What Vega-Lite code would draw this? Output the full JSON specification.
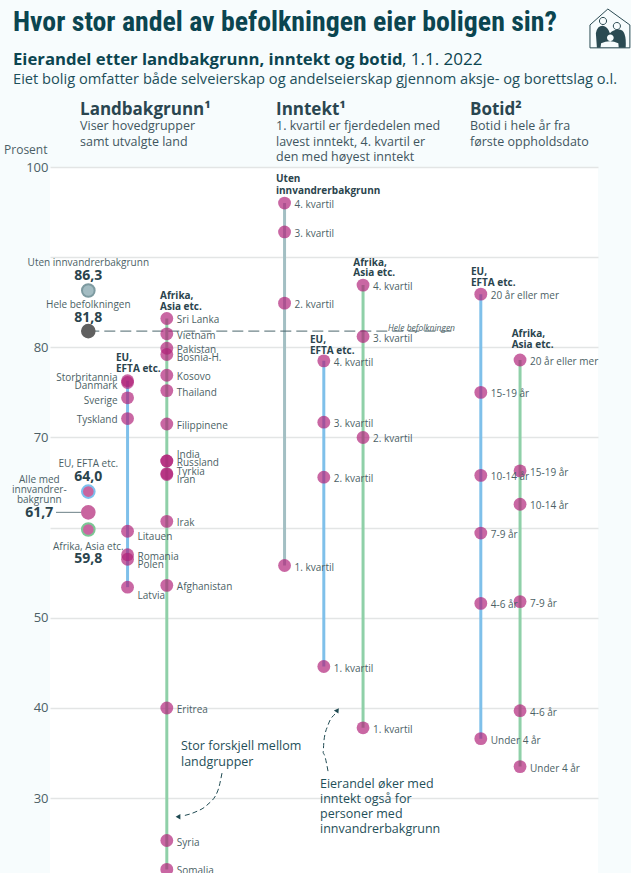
{
"$schema":"https://vega.github.io/schema/vega-lite/v6.json",
"autosize":{"type":"none"},
"padding":{"left":50,"top":167,"right":33,"bottom":0},
"width":548,"height":706,
"background":"#f7fcfd",
"view":{"fill":"#ffffff","stroke":null},
"title":{"text":"Hvor stor andel av befolkningen eier boligen sin?","anchor":"start","frame":"group","dx":-37,"offset":-52,"baseline":"alphabetic","font":"'Roboto Condensed', Roboto, sans-serif","fontSize":27.8,"fontWeight":"bold","color":"#0b4550"},
"config":{
 "axisX":{"disable":true},
 "text":{"font":"Open Sans","fontSize":10,"baseline":"middle","align":"left","color":"#4c5f66","lineBreak":"\n","dy":1}
},
"datasets":{
 "eierandel":[
  {"serie":"Land EU","bakgrunn":"EU, EFTA etc.","kolonne":1,"etikett":"Storbritannia","prosent":76.3},
  {"serie":"Land EU","bakgrunn":"EU, EFTA etc.","kolonne":1,"etikett":"Danmark","prosent":76.1},
  {"serie":"Land EU","bakgrunn":"EU, EFTA etc.","kolonne":1,"etikett":"Sverige","prosent":74.4},
  {"serie":"Land EU","bakgrunn":"EU, EFTA etc.","kolonne":1,"etikett":"Tyskland","prosent":72.1},
  {"serie":"Land EU","bakgrunn":"EU, EFTA etc.","kolonne":1,"etikett":"Litauen","prosent":59.6},
  {"serie":"Land EU","bakgrunn":"EU, EFTA etc.","kolonne":1,"etikett":"Romania","prosent":57.0},
  {"serie":"Land EU","bakgrunn":"EU, EFTA etc.","kolonne":1,"etikett":"Polen","prosent":56.5},
  {"serie":"Land EU","bakgrunn":"EU, EFTA etc.","kolonne":1,"etikett":"Latvia","prosent":53.4},
  {"serie":"Land Afrika","bakgrunn":"Afrika, Asia etc.","kolonne":2,"etikett":"Sri Lanka","prosent":83.2},
  {"serie":"Land Afrika","bakgrunn":"Afrika, Asia etc.","kolonne":2,"etikett":"Vietnam","prosent":81.5},
  {"serie":"Land Afrika","bakgrunn":"Afrika, Asia etc.","kolonne":2,"etikett":"Pakistan","prosent":79.9},
  {"serie":"Land Afrika","bakgrunn":"Afrika, Asia etc.","kolonne":2,"etikett":"Bosnia-H.","prosent":79.2},
  {"serie":"Land Afrika","bakgrunn":"Afrika, Asia etc.","kolonne":2,"etikett":"Kosovo","prosent":76.9},
  {"serie":"Land Afrika","bakgrunn":"Afrika, Asia etc.","kolonne":2,"etikett":"Thailand","prosent":75.2},
  {"serie":"Land Afrika","bakgrunn":"Afrika, Asia etc.","kolonne":2,"etikett":"Filippinene","prosent":71.5},
  {"serie":"Land Afrika","bakgrunn":"Afrika, Asia etc.","kolonne":2,"etikett":"India","prosent":67.4},
  {"serie":"Land Afrika","bakgrunn":"Afrika, Asia etc.","kolonne":2,"etikett":"Russland","prosent":67.4},
  {"serie":"Land Afrika","bakgrunn":"Afrika, Asia etc.","kolonne":2,"etikett":"Tyrkia","prosent":66.0},
  {"serie":"Land Afrika","bakgrunn":"Afrika, Asia etc.","kolonne":2,"etikett":"Iran","prosent":65.9},
  {"serie":"Land Afrika","bakgrunn":"Afrika, Asia etc.","kolonne":2,"etikett":"Irak","prosent":60.7},
  {"serie":"Land Afrika","bakgrunn":"Afrika, Asia etc.","kolonne":2,"etikett":"Afghanistan","prosent":53.6},
  {"serie":"Land Afrika","bakgrunn":"Afrika, Asia etc.","kolonne":2,"etikett":"Eritrea","prosent":40.0},
  {"serie":"Land Afrika","bakgrunn":"Afrika, Asia etc.","kolonne":2,"etikett":"Syria","prosent":25.3},
  {"serie":"Land Afrika","bakgrunn":"Afrika, Asia etc.","kolonne":2,"etikett":"Somalia","prosent":22.1},
  {"serie":"Inntekt Uten","bakgrunn":"Uten innvandrerbakgrunn","kolonne":5,"etikett":"4. kvartil","prosent":96.0},
  {"serie":"Inntekt Uten","bakgrunn":"Uten innvandrerbakgrunn","kolonne":5,"etikett":"3. kvartil","prosent":92.8},
  {"serie":"Inntekt Uten","bakgrunn":"Uten innvandrerbakgrunn","kolonne":5,"etikett":"2. kvartil","prosent":84.9},
  {"serie":"Inntekt Uten","bakgrunn":"Uten innvandrerbakgrunn","kolonne":5,"etikett":"1. kvartil","prosent":55.8},
  {"serie":"Inntekt EU","bakgrunn":"EU, EFTA etc.","kolonne":6,"etikett":"4. kvartil","prosent":78.5},
  {"serie":"Inntekt EU","bakgrunn":"EU, EFTA etc.","kolonne":6,"etikett":"3. kvartil","prosent":71.7},
  {"serie":"Inntekt EU","bakgrunn":"EU, EFTA etc.","kolonne":6,"etikett":"2. kvartil","prosent":65.6},
  {"serie":"Inntekt EU","bakgrunn":"EU, EFTA etc.","kolonne":6,"etikett":"1. kvartil","prosent":44.6},
  {"serie":"Inntekt Afrika","bakgrunn":"Afrika, Asia etc.","kolonne":7,"etikett":"4. kvartil","prosent":86.9},
  {"serie":"Inntekt Afrika","bakgrunn":"Afrika, Asia etc.","kolonne":7,"etikett":"3. kvartil","prosent":81.2},
  {"serie":"Inntekt Afrika","bakgrunn":"Afrika, Asia etc.","kolonne":7,"etikett":"2. kvartil","prosent":70.0},
  {"serie":"Inntekt Afrika","bakgrunn":"Afrika, Asia etc.","kolonne":7,"etikett":"1. kvartil","prosent":37.8},
  {"serie":"Botid EU","bakgrunn":"EU, EFTA etc.","kolonne":10,"etikett":"20 år eller mer","prosent":85.9},
  {"serie":"Botid EU","bakgrunn":"EU, EFTA etc.","kolonne":10,"etikett":"15-19 år","prosent":75.0},
  {"serie":"Botid EU","bakgrunn":"EU, EFTA etc.","kolonne":10,"etikett":"10-14 år","prosent":65.8},
  {"serie":"Botid EU","bakgrunn":"EU, EFTA etc.","kolonne":10,"etikett":"7-9 år","prosent":59.4},
  {"serie":"Botid EU","bakgrunn":"EU, EFTA etc.","kolonne":10,"etikett":"4-6 år","prosent":51.6},
  {"serie":"Botid EU","bakgrunn":"EU, EFTA etc.","kolonne":10,"etikett":"Under 4 år","prosent":36.6},
  {"serie":"Botid Afrika","bakgrunn":"Afrika, Asia etc.","kolonne":11,"etikett":"20 år eller mer","prosent":78.6},
  {"serie":"Botid Afrika","bakgrunn":"Afrika, Asia etc.","kolonne":11,"etikett":"15-19 år","prosent":66.3},
  {"serie":"Botid Afrika","bakgrunn":"Afrika, Asia etc.","kolonne":11,"etikett":"10-14 år","prosent":62.6},
  {"serie":"Botid Afrika","bakgrunn":"Afrika, Asia etc.","kolonne":11,"etikett":"7-9 år","prosent":51.8},
  {"serie":"Botid Afrika","bakgrunn":"Afrika, Asia etc.","kolonne":11,"etikett":"4-6 år","prosent":39.7},
  {"serie":"Botid Afrika","bakgrunn":"Afrika, Asia etc.","kolonne":11,"etikett":"Under 4 år","prosent":33.5}
 ],
 "hovedgrupper":[
  {"gruppe":"Uten innvandrerbakgrunn","kolonne":0,"prosent":86.3},
  {"gruppe":"Hele befolkningen","kolonne":0,"prosent":81.8},
  {"gruppe":"EU, EFTA etc.","kolonne":0,"prosent":64.0},
  {"gruppe":"Alle med innvandrerbakgrunn","kolonne":0,"prosent":61.7},
  {"gruppe":"Afrika, Asia etc.","kolonne":0,"prosent":59.8}
 ],
 "piler":[
  {"pil":"a","rekke":1,"kolonne":3.406,"prosent":32.78},
  {"pil":"a","rekke":2,"kolonne":3.305,"prosent":30.89},
  {"pil":"a","rekke":3,"kolonne":3.024,"prosent":29.23},
  {"pil":"a","rekke":4,"kolonne":2.718,"prosent":28.45},
  {"pil":"a","rekke":5,"kolonne":2.387,"prosent":28.01},
  {"pil":"b","rekke":1,"kolonne":6.107,"prosent":33.0},
  {"pil":"b","rekke":2,"kolonne":5.98,"prosent":35.0},
  {"pil":"b","rekke":3,"kolonne":6.005,"prosent":36.44},
  {"pil":"b","rekke":4,"kolonne":6.107,"prosent":38.1},
  {"pil":"b","rekke":5,"kolonne":6.285,"prosent":39.32}
 ]
},
"data":{"name":"eierandel"},
"layer":[
 {"mark":{"type":"line","strokeWidth":3},
  "encoding":{
   "x":{"field":"kolonne","type":"quantitative","scale":{"domain":[-0.976,12.986],"nice":false,"zero":false}},
   "y":{"field":"prosent","type":"quantitative","scale":{"domain":[21.7,100],"nice":false,"zero":false},
    "axis":{"title":"Prosent","titleAngle":0,"titleAlign":"right","titleBaseline":"middle","titleX":-3,"titleY":-18,"titleFont":"Open Sans","titleFontSize":12,"titleFontWeight":"normal","titleColor":"#4c5f66",
     "values":[30,40,50,60,70,80,90,100],"labelExpr":"datum.value==60||datum.value==90?'':datum.label","domain":false,"ticks":false,"labelPadding":2,"labelFont":"Open Sans","labelFontSize":13,"labelColor":"#4c5f66","grid":true,"gridColor":"#e3e5e5","gridWidth":1.5}},
   "color":{"field":"bakgrunn","type":"nominal","legend":null,"scale":{"domain":["EU, EFTA etc.","Afrika, Asia etc.","Uten innvandrerbakgrunn"],"range":["#7fc0ea","#8fd0a8","#a3bfc3"]}},
   "detail":{"field":"serie"},
   "order":{"field":"prosent"}
  }},
 {"data":{"values":[{"navn":"Hele befolkningen"}]},"mark":{"type":"rule","color":"#4a666c","strokeWidth":1,"strokeDash":[11,5]},
  "encoding":{"x":{"datum":0,"type":"quantitative"},"x2":{"datum":9.343},"y":{"datum":81.8,"type":"quantitative"}}},
 {"data":{"values":[{"navn":"Alle med innvandrerbakgrunn"}]},"mark":{"type":"rule","color":"#6b8086","strokeWidth":1},
  "encoding":{"x":{"datum":-0.823,"type":"quantitative"},"x2":{"datum":-0.16},"y":{"datum":61.7,"type":"quantitative"}}},
 {"mark":{"type":"point","filled":true,"color":"#b01f78","opacity":0.68,"size":165},
  "encoding":{"x":{"field":"kolonne","type":"quantitative"},"y":{"field":"prosent","type":"quantitative"}}},
 {"data":{"name":"hovedgrupper"},
  "mark":{"type":"point","filled":true,"strokeWidth":2,"size":160,"opacity":1},
  "encoding":{"x":{"field":"kolonne","type":"quantitative"},"y":{"field":"prosent","type":"quantitative"},
   "fill":{"field":"gruppe","type":"nominal","legend":null,"scale":{"domain":["Uten innvandrerbakgrunn","Hele befolkningen","EU, EFTA etc.","Alle med innvandrerbakgrunn","Afrika, Asia etc."],"range":["#a3bcc2","#606060","#c8659f","#c8659f","#c8659f"]}},
   "stroke":{"field":"gruppe","type":"nominal","legend":null,"scale":{"domain":["Uten innvandrerbakgrunn","Hele befolkningen","EU, EFTA etc.","Alle med innvandrerbakgrunn","Afrika, Asia etc."],"range":["#7d9aa0","#606060","#7cc0ee","#c8659f","#7cc795"]}}}},
 {"data":{"name":"piler"},"mark":{"type":"line","color":"#1f4a52","strokeWidth":1,"strokeDash":[5,3],"interpolate":"monotone"},
  "encoding":{"x":{"field":"kolonne","type":"quantitative"},"y":{"field":"prosent","type":"quantitative"},"detail":{"field":"pil"},"order":{"field":"rekke"}}},
 {"data":{"values":[{"pil":"a"}]},"mark":{"type":"point","shape":"triangle-left","filled":true,"color":"#1f4a52","opacity":1,"size":30},
  "encoding":{"x":{"datum":2.285,"type":"quantitative"},"y":{"datum":27.95,"type":"quantitative"}}},
 {"data":{"values":[{"pil":"b"}]},"mark":{"type":"point","shape":"triangle-up","angle":35,"filled":true,"color":"#1f4a52","opacity":1,"size":30},
  "encoding":{"x":{"datum":6.349,"type":"quantitative"},"y":{"datum":39.77,"type":"quantitative"}}},

 {"transform":[{"filter":{"not":{"field":"etikett","oneOf":["Storbritannia","Danmark","Sverige","Tyskland","India","Tyrkia","Iran","Bosnia-H.","Litauen","Polen","Latvia"]}}}],
  "mark":{"type":"text","dx":10,"dy":2},
  "encoding":{"x":{"field":"kolonne","type":"quantitative"},"y":{"field":"prosent","type":"quantitative"},"text":{"field":"etikett"}}},
 {"transform":[{"filter":{"field":"etikett","oneOf":["Storbritannia"]}}],"mark":{"type":"text","dx":-10,"dy":-3,"align":"right"},
  "encoding":{"x":{"field":"kolonne","type":"quantitative"},"y":{"field":"prosent","type":"quantitative"},"text":{"field":"etikett"}}},
 {"transform":[{"filter":{"field":"etikett","oneOf":["Danmark","Sverige"]}}],"mark":{"type":"text","dx":-10,"dy":3.5,"align":"right"},
  "encoding":{"x":{"field":"kolonne","type":"quantitative"},"y":{"field":"prosent","type":"quantitative"},"text":{"field":"etikett"}}},
 {"transform":[{"filter":{"field":"etikett","oneOf":["Tyskland"]}}],"mark":{"type":"text","dx":-10,"dy":1,"align":"right"},
  "encoding":{"x":{"field":"kolonne","type":"quantitative"},"y":{"field":"prosent","type":"quantitative"},"text":{"field":"etikett"}}},
 {"transform":[{"filter":{"field":"etikett","oneOf":["India"]}}],"mark":{"type":"text","dx":10,"dy":-5.5},
  "encoding":{"x":{"field":"kolonne","type":"quantitative"},"y":{"field":"prosent","type":"quantitative"},"text":{"field":"etikett"}}},
 {"transform":[{"filter":{"field":"etikett","oneOf":["Tyrkia"]}}],"mark":{"type":"text","dx":10,"dy":-2},
  "encoding":{"x":{"field":"kolonne","type":"quantitative"},"y":{"field":"prosent","type":"quantitative"},"text":{"field":"etikett"}}},
 {"transform":[{"filter":{"field":"etikett","oneOf":["Bosnia-H."]}}],"mark":{"type":"text","dx":10,"dy":3.5},
  "encoding":{"x":{"field":"kolonne","type":"quantitative"},"y":{"field":"prosent","type":"quantitative"},"text":{"field":"etikett"}}},
 {"transform":[{"filter":{"field":"etikett","oneOf":["Iran","Litauen","Polen"]}}],"mark":{"type":"text","dx":10,"dy":6},
  "encoding":{"x":{"field":"kolonne","type":"quantitative"},"y":{"field":"prosent","type":"quantitative"},"text":{"field":"etikett"}}},
 {"transform":[{"filter":{"field":"etikett","oneOf":["Latvia"]}}],"mark":{"type":"text","dx":10,"dy":8.5},
  "encoding":{"x":{"field":"kolonne","type":"quantitative"},"y":{"field":"prosent","type":"quantitative"},"text":{"field":"etikett"}}},

 {"data":{"values":[{"t":"Eierandel etter landbakgrunn, inntekt og botid"}]},"mark":{"type":"text","fontSize":16.7,"fontWeight":"bold","color":"#0b4550"},"encoding":{"x":{"datum":-1.918,"type":"quantitative"},"y":{"datum":112.0,"type":"quantitative"},"text":{"field":"t"}}},
 {"data":{"values":[{"t":", 1.1. 2022"}]},"mark":{"type":"text","fontSize":17,"color":"#0b4550"},"encoding":{"x":{"datum":7.992,"type":"quantitative"},"y":{"datum":112.0,"type":"quantitative"},"text":{"field":"t"}}},
 {"data":{"values":[{"t":"Eiet bolig omfatter både selveierskap og andelseierskap gjennom aksje- og borettslag o.l."}]},"mark":{"type":"text","fontSize":14.65,"color":"#1d4f5a"},"encoding":{"x":{"datum":-1.918,"type":"quantitative"},"y":{"datum":109.8,"type":"quantitative"},"text":{"field":"t"}}},

 {"data":{"values":[{"t":"Landbakgrunn¹"}]},"mark":{"type":"text","fontSize":17,"fontWeight":"bold","color":"#2a4650"},"encoding":{"x":{"datum":-0.211,"type":"quantitative"},"y":{"datum":106.43,"type":"quantitative"},"text":{"field":"t"}}},
 {"data":{"values":[{"t":"Inntekt¹"}]},"mark":{"type":"text","fontSize":17,"fontWeight":"bold","color":"#2a4650"},"encoding":{"x":{"datum":4.782,"type":"quantitative"},"y":{"datum":106.43,"type":"quantitative"},"text":{"field":"t"}}},
 {"data":{"values":[{"t":"Botid²"}]},"mark":{"type":"text","fontSize":17,"fontWeight":"bold","color":"#2a4650"},"encoding":{"x":{"datum":9.725,"type":"quantitative"},"y":{"datum":106.43,"type":"quantitative"},"text":{"field":"t"}}},
 {"data":{"values":[{"t":"Viser hovedgrupper\nsamt utvalgte land"}]},"mark":{"type":"text","fontSize":12.5,"lineHeight":15.7,"color":"#3f5660"},"encoding":{"x":{"datum":-0.211,"type":"quantitative"},"y":{"datum":104.66,"type":"quantitative"},"text":{"field":"t"}}},
 {"data":{"values":[{"t":"1. kvartil er fjerdedelen med\nlavest inntekt, 4. kvartil er\nden med høyest inntekt"}]},"mark":{"type":"text","fontSize":12.5,"lineHeight":15.7,"color":"#3f5660"},"encoding":{"x":{"datum":4.782,"type":"quantitative"},"y":{"datum":104.66,"type":"quantitative"},"text":{"field":"t"}}},
 {"data":{"values":[{"t":"Botid i hele år fra\nførste oppholdsdato"}]},"mark":{"type":"text","fontSize":12.5,"lineHeight":15.7,"color":"#3f5660"},"encoding":{"x":{"datum":9.725,"type":"quantitative"},"y":{"datum":104.66,"type":"quantitative"},"text":{"field":"t"}}},

 {"data":{"values":[{"t":"Uten innvandrerbakgrunn"}]},"mark":{"type":"text","align":"center"},"encoding":{"x":{"datum":0,"type":"quantitative"},"y":{"datum":89.43,"type":"quantitative"},"text":{"field":"t"}}},
 {"data":{"values":[{"t":"86,3"}]},"mark":{"type":"text","align":"center","fontSize":14,"fontWeight":"bold","color":"#2a444d"},"encoding":{"x":{"datum":0,"type":"quantitative"},"y":{"datum":88.02,"type":"quantitative"},"text":{"field":"t"}}},
 {"data":{"values":[{"t":"Hele befolkningen"}]},"mark":{"type":"text","align":"center"},"encoding":{"x":{"datum":0,"type":"quantitative"},"y":{"datum":84.77,"type":"quantitative"},"text":{"field":"t"}}},
 {"data":{"values":[{"t":"81,8"}]},"mark":{"type":"text","align":"center","fontSize":14,"fontWeight":"bold","color":"#2a444d"},"encoding":{"x":{"datum":0,"type":"quantitative"},"y":{"datum":83.39,"type":"quantitative"},"text":{"field":"t"}}},
 {"data":{"values":[{"t":"EU, EFTA etc."}]},"mark":{"type":"text","align":"center"},"encoding":{"x":{"datum":0,"type":"quantitative"},"y":{"datum":67.13,"type":"quantitative"},"text":{"field":"t"}}},
 {"data":{"values":[{"t":"64,0"}]},"mark":{"type":"text","align":"center","fontSize":14,"fontWeight":"bold","color":"#2a444d"},"encoding":{"x":{"datum":0,"type":"quantitative"},"y":{"datum":65.76,"type":"quantitative"},"text":{"field":"t"}}},
 {"data":{"values":[{"t":"Alle med\ninnvandrer-\nbakgrunn"}]},"mark":{"type":"text","align":"center","lineHeight":10},"encoding":{"x":{"datum":-1.248,"type":"quantitative"},"y":{"datum":65.36,"type":"quantitative"},"text":{"field":"t"}}},
 {"data":{"values":[{"t":"61,7"}]},"mark":{"type":"text","align":"center","fontSize":14,"fontWeight":"bold","color":"#2a444d"},"encoding":{"x":{"datum":-1.248,"type":"quantitative"},"y":{"datum":61.76,"type":"quantitative"},"text":{"field":"t"}}},
 {"data":{"values":[{"t":"Afrika, Asia etc."}]},"mark":{"type":"text","align":"center"},"encoding":{"x":{"datum":0,"type":"quantitative"},"y":{"datum":57.99,"type":"quantitative"},"text":{"field":"t"}}},
 {"data":{"values":[{"t":"59,8"}]},"mark":{"type":"text","align":"center","fontSize":14,"fontWeight":"bold","color":"#2a444d"},"encoding":{"x":{"datum":0,"type":"quantitative"},"y":{"datum":56.63,"type":"quantitative"},"text":{"field":"t"}}},

 {"data":{"values":[{"t":"EU,\nEFTA etc."}]},"mark":{"type":"text","fontWeight":"bold","lineHeight":10.5,"color":"#2a444d"},"encoding":{"x":{"datum":0.706,"type":"quantitative"},"y":{"datum":78.89,"type":"quantitative"},"text":{"field":"t"}}},
 {"data":{"values":[{"t":"Afrika,\nAsia etc."}]},"mark":{"type":"text","fontWeight":"bold","lineHeight":10.5,"color":"#2a444d"},"encoding":{"x":{"datum":1.827,"type":"quantitative"},"y":{"datum":85.8,"type":"quantitative"},"text":{"field":"t"}}},
 {"data":{"values":[{"t":"Uten\ninnvandrerbakgrunn"}]},"mark":{"type":"text","fontWeight":"bold","lineHeight":11.5,"color":"#2a444d"},"encoding":{"x":{"datum":4.782,"type":"quantitative"},"y":{"datum":98.75,"type":"quantitative"},"text":{"field":"t"}}},
 {"data":{"values":[{"t":"Afrika,\nAsia etc."}]},"mark":{"type":"text","fontWeight":"bold","lineHeight":10.5,"color":"#2a444d"},"encoding":{"x":{"datum":6.752,"type":"quantitative"},"y":{"datum":89.5,"type":"quantitative"},"text":{"field":"t"}}},
 {"data":{"values":[{"t":"EU,\nEFTA etc."}]},"mark":{"type":"text","fontWeight":"bold","lineHeight":10.5,"color":"#2a444d"},"encoding":{"x":{"datum":5.648,"type":"quantitative"},"y":{"datum":80.89,"type":"quantitative"},"text":{"field":"t"}}},
 {"data":{"values":[{"t":"EU,\nEFTA etc."}]},"mark":{"type":"text","fontWeight":"bold","lineHeight":10.5,"color":"#2a444d"},"encoding":{"x":{"datum":9.75,"type":"quantitative"},"y":{"datum":88.46,"type":"quantitative"},"text":{"field":"t"}}},
 {"data":{"values":[{"t":"Afrika,\nAsia etc."}]},"mark":{"type":"text","fontWeight":"bold","lineHeight":10.5,"color":"#2a444d"},"encoding":{"x":{"datum":10.787,"type":"quantitative"},"y":{"datum":81.55,"type":"quantitative"},"text":{"field":"t"}}},

 {"data":{"values":[{"t":"Hele befolkningen"}]},"mark":{"type":"text","align":"right","fontStyle":"italic","fontSize":8.5},"encoding":{"x":{"datum":9.343,"type":"quantitative"},"y":{"datum":82.29,"type":"quantitative"},"text":{"field":"t"}}},
 {"data":{"values":[{"t":"Stor forskjell mellom\nlandgrupper"}]},"mark":{"type":"text","fontSize":12.5,"lineHeight":15.5,"color":"#1f4f59"},"encoding":{"x":{"datum":2.362,"type":"quantitative"},"y":{"datum":35.88,"type":"quantitative"},"text":{"field":"t"}}},
 {"data":{"values":[{"t":"Eierandel øker med\ninntekt også for\npersoner med\ninnvandrerbakgrunn"}]},"mark":{"type":"text","fontSize":12.5,"lineHeight":15.2,"color":"#1f4f59"},"encoding":{"x":{"datum":5.903,"type":"quantitative"},"y":{"datum":31.7,"type":"quantitative"},"text":{"field":"t"}}},

 {"data":{"values":[{"ikon":"kropper"}]},"mark":{"type":"point","filled":true,"opacity":1,"color":"#2a4a52","size":1764,"shape":"M-0.62 0.9L-0.67 0.2Q-0.6 -0.15 -0.35 -0.15Q-0.1 -0.1 0 0.2Q0.2 0 0.45 0.03Q0.8 0.05 0.75 0.9Z"},"encoding":{"x":{"datum":13.29,"type":"quantitative"},"y":{"datum":115.31,"type":"quantitative"}}},
 {"data":{"values":[{"ikon":"barn"}]},"mark":{"type":"point","filled":true,"opacity":1,"color":"#f7fcfd","size":1764,"shape":"M-0.14 0.42A0.16 0.16 0 1 1 0.18 0.42A0.16 0.16 0 1 1 -0.14 0.42ZM-0.45 0.9L-0.42 0.68Q0 0.5 0.4 0.68L0.42 0.9Z"},"encoding":{"x":{"datum":13.29,"type":"quantitative"},"y":{"datum":115.31,"type":"quantitative"}}},
 {"data":{"values":[{"ikon":"hus"}]},"mark":{"type":"point","filled":false,"opacity":1,"color":"#2a4a52","strokeWidth":1,"size":1764,"shape":"M-0.95 -0.19L-0.1 -0.95L0.95 -0.19L0.95 0.9L-0.95 0.9ZM-0.5 -0.38A0.17 0.17 0 1 1 -0.16 -0.38A0.17 0.17 0 1 1 -0.5 -0.38ZM0.16 -0.14A0.17 0.17 0 1 1 0.5 -0.14A0.17 0.17 0 1 1 0.16 -0.14Z"},"encoding":{"x":{"datum":13.29,"type":"quantitative"},"y":{"datum":115.31,"type":"quantitative"}}}
]
}
